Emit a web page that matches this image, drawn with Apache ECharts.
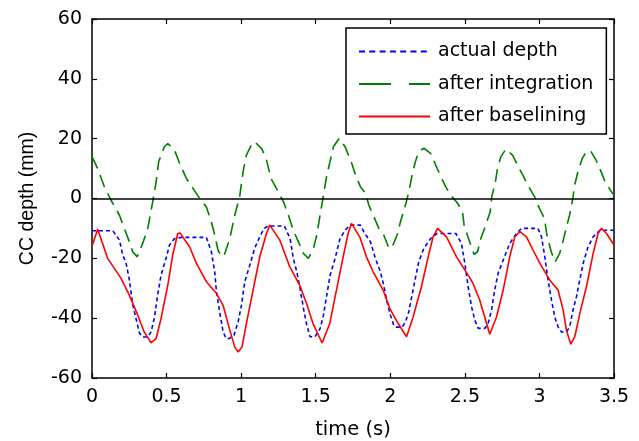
<!DOCTYPE html>
<html>
<head>
<meta charset="utf-8">
<script src="https://cdn.jsdelivr.net/npm/echarts@6/dist/echarts.min.js"></script>
<style>html,body{margin:0;padding:0;background:#fff}#c{width:639px;height:441px}</style>
</head>
<body>
<div id="c"></div>
<script>
const xTicks = { min: 0, max: 3.5, interval: 0.5 };
const yTicks = { min: -60, max: 60, interval: 20 };
const seriesNames = ['actual depth', 'after integration', 'after baselining'];

const actualT = [0,0.14,0.184,0.206,0.228,0.25,0.273,0.295,0.318,0.34,0.374,0.396,0.418,0.44,0.463,0.497,0.519,0.553,0.6,0.767,0.8,0.823,0.834,0.856,0.879,0.9,0.92,0.952,0.98,1.002,1.024,1.058,1.09,1.125,1.154,1.18,1.29,1.328,1.35,1.373,1.395,1.418,1.44,1.462,1.496,1.53,1.552,1.574,1.597,1.63,1.663,1.697,1.73,1.8,1.822,1.867,1.9,1.934,1.956,1.978,2.001,2.023,2.04,2.08,2.102,2.124,2.146,2.168,2.191,2.225,2.27,2.314,2.44,2.477,2.5,2.522,2.545,2.567,2.59,2.634,2.656,2.679,2.7,2.723,2.757,2.801,2.846,2.88,2.99,3.014,3.036,3.058,3.081,3.103,3.125,3.148,3.181,3.203,3.225,3.248,3.27,3.293,3.326,3.36,3.405,3.5];
const actualV = [-10.8,-10.8,-13.9,-18.9,-21.5,-27,-35.5,-40.1,-45,-46.3,-46.3,-44.6,-40,-32.3,-25.6,-20,-15.6,-13.4,-13,-13,-17.8,-24.5,-31,-37.9,-44.6,-46.8,-46.8,-45.7,-41.2,-35.7,-27.9,-22.3,-16.7,-12.8,-10,-9.2,-9.2,-13.4,-20,-24.5,-30,-36.8,-42.3,-46.2,-46.2,-43.4,-39,-32.3,-25.6,-20,-13.4,-10.6,-8.9,-8.9,-11.1,-14.5,-20,-24.5,-29,-34.5,-39,-42.3,-43,-43,-41.2,-37.9,-32.3,-26.7,-21.2,-16.7,-13.4,-11.7,-11.7,-15,-21.7,-29.5,-36.2,-40.7,-43.4,-43.4,-41.8,-37.3,-30.6,-25,-20.6,-15,-11.7,-10,-10,-12.8,-19.5,-27.3,-34,-39.6,-42.9,-44.6,-44.6,-42.9,-37.3,-32.9,-27.3,-21.7,-16.2,-12.8,-10.6,-10.6];

const integT = [0,0.038,0.083,0.127,0.184,0.217,0.251,0.273,0.302,0.34,0.374,0.407,0.43,0.447,0.485,0.508,0.553,0.588,0.633,0.677,0.722,0.767,0.8,0.823,0.845,0.87,0.89,0.924,0.957,0.99,1.013,1.035,1.069,1.091,1.14,1.172,1.2,1.25,1.284,1.317,1.35,1.384,1.418,1.451,1.485,1.507,1.529,1.552,1.574,1.596,1.619,1.657,1.697,1.742,1.767,1.8,1.834,1.856,1.89,1.923,1.956,1.99,2.01,2.046,2.068,2.102,2.124,2.146,2.168,2.191,2.225,2.27,2.314,2.339,2.372,2.406,2.45,2.484,2.495,2.528,2.562,2.585,2.607,2.64,2.67,2.68,2.703,2.719,2.741,2.775,2.82,2.864,2.889,2.922,2.967,3.0,3.034,3.05,3.079,3.105,3.135,3.157,3.179,3.202,3.224,3.236,3.258,3.287,3.32,3.347,3.38,3.414,3.44,3.49,3.5];
const integV = [14,10,3.9,-0.5,-5.6,-10,-14.5,-17.8,-19.5,-15,-10,-1.1,5.6,12.3,17.3,18.4,16.2,11.7,6.7,3.4,0,-2.8,-7.8,-12.2,-17.3,-19.5,-18.5,-13.4,-5.6,0.6,8.9,14.5,17.9,19,16.5,12.5,6.7,2.2,-1.1,-5.6,-10.6,-14.5,-18.4,-20,-16.7,-12.2,-5.6,1.1,7.8,12.3,17.3,20.1,17.3,11.7,7.8,3.9,1.7,-2.2,-6.1,-10,-12.2,-16.5,-16.5,-12.2,-7.8,-2.2,2.2,7.8,12.3,15.6,16.8,15.1,10.1,7.3,3.9,1.1,-1.5,-4.4,-8.9,-13.9,-18.7,-17.8,-13.4,-8.9,-4.4,0.6,5,10.1,13.9,16.5,14.5,10.1,7.8,4.5,0.6,-3.3,-6.7,-12.2,-17.8,-21.2,-18.4,-14.5,-10,-5.6,0,4.5,8.9,13.4,16,15.6,12.8,8.9,5.6,1.7,1.5];

const baseT = [0,0.038,0.105,0.195,0.25,0.307,0.35,0.396,0.43,0.463,0.508,0.541,0.575,0.59,0.655,0.7,0.767,0.834,0.879,0.924,0.957,0.98,1.006,1.035,1.08,1.125,1.17,1.192,1.259,1.326,1.393,1.438,1.482,1.543,1.594,1.639,1.684,1.717,1.74,1.795,1.84,1.885,1.952,1.997,2.053,2.109,2.153,2.209,2.254,2.287,2.317,2.377,2.444,2.522,2.555,2.6,2.667,2.712,2.757,2.801,2.835,2.869,2.913,2.958,3.003,3.07,3.125,3.159,3.181,3.21,3.237,3.271,3.315,3.36,3.393,3.416,3.45,3.5];
const baseV = [-16,-10.3,-20,-26.7,-32.3,-39,-44.6,-48.2,-46.8,-40.1,-29,-18.9,-11.7,-11.5,-16.2,-21.7,-27.8,-31.7,-35.7,-44,-49.6,-51.3,-49.6,-41.8,-30.6,-19.5,-11.7,-8.9,-13.9,-22.8,-29,-35,-41.8,-48.3,-41.8,-30.6,-19.5,-11.7,-8.3,-12.8,-19.5,-24.5,-30.6,-36.8,-41.8,-46.2,-39.6,-29.5,-19.5,-12.8,-10,-12.8,-19.5,-25.6,-28.4,-34,-45.4,-39.6,-30.6,-19.5,-12.8,-11.1,-12.8,-17.3,-21.7,-27.3,-30.6,-37.3,-44,-48.7,-46.2,-38.4,-29.5,-18.4,-11.7,-10,-11.7,-15.6];

const zip = (t, v) => t.map((x, i) => [x, v[i]]);
const tickFont = { fontFamily: 'DejaVu Sans', fontSize: 19, color: '#000' };

const chart = echarts.init(document.getElementById('c'), null, { renderer: 'canvas' });
const axisCommon = {
  axisLine: { show: true, onZero: false, lineStyle: { color: '#000', width: 1.5 } },
  axisTick: { show: true, inside: true, length: 5, lineStyle: { color: '#000', width: 1.2 } },
  splitLine: { show: false }
};
chart.setOption({
  animation: false,
  backgroundColor: '#fff',
  grid: { left: 92, top: 19, width: 522, height: 359, containLabel: false, outerBoundsMode: 'none' },
  xAxis: [
    Object.assign({ type: 'value', position: 'bottom', min: xTicks.min, max: xTicks.max, interval: xTicks.interval,
      axisLabel: Object.assign({ margin: 10, formatter: v => String(v) }, tickFont),
      name: 'time (s)', nameLocation: 'middle', nameGap: 42,
      nameTextStyle: { fontFamily: 'DejaVu Sans', fontSize: 19.5, color: '#000' } }, axisCommon),
    Object.assign({ type: 'value', position: 'top', min: xTicks.min, max: xTicks.max, interval: xTicks.interval,
      axisLabel: { show: false } }, axisCommon)
  ],
  yAxis: [
    Object.assign({ type: 'value', position: 'left', min: yTicks.min, max: yTicks.max, interval: yTicks.interval,
      axisLabel: Object.assign({ margin: 10 }, tickFont),
      name: 'CC depth (mm)', nameLocation: 'middle', nameGap: 64, nameRotate: 90,
      nameTextStyle: { fontFamily: 'Liberation Sans', fontSize: 19.5, color: '#000', verticalAlign: 'middle' } }, axisCommon),
    Object.assign({ type: 'value', position: 'right', min: yTicks.min, max: yTicks.max, interval: yTicks.interval,
      axisLabel: { show: false } }, axisCommon)
  ],
  legend: {
    orient: 'vertical', left: 346, top: 28,
    padding: [14, 13, 8, 12],
    itemWidth: 71, itemHeight: 14, itemGap: 13.5,
    borderColor: '#000', borderWidth: 1.5, backgroundColor: '#fff',
    itemStyle: { opacity: 0 },
    textStyle: { fontFamily: 'DejaVu Sans', fontSize: 19, color: '#000', padding: [0, 0, 0, 3] },
    data: [
      { name: seriesNames[0], lineStyle: { type: [6, 4.3] } },
      { name: seriesNames[1], lineStyle: { type: [32, 18] } },
      { name: seriesNames[2] }
    ]
  },
  series: [
    { name: seriesNames[0], type: 'line', symbol: 'none', data: zip(actualT, actualV), z: 3,
      lineStyle: { color: '#0000ff', width: 1.6, type: [4, 3] }, itemStyle: { color: '#0000ff' },
      markLine: { silent: true, symbol: 'none', label: { show: false },
        lineStyle: { color: '#000', width: 1.5, type: 'solid' }, data: [{ yAxis: 0 }] } },
    { name: seriesNames[1], type: 'line', symbol: 'none', data: zip(integT, integV), z: 2,
      lineStyle: { color: '#008000', width: 1.6, type: [13, 7] }, itemStyle: { color: '#008000' } },
    { name: seriesNames[2], type: 'line', symbol: 'none', data: zip(baseT, baseV), z: 4,
      lineStyle: { color: '#ff0000', width: 1.6, type: 'solid' }, itemStyle: { color: '#ff0000' } }
  ]
});
</script>
</body>
</html>
